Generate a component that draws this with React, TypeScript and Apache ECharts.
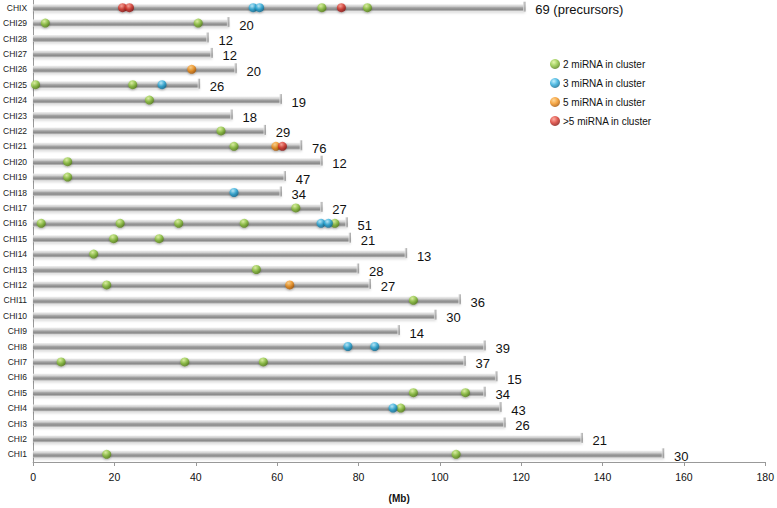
import React, { useEffect, useRef } from "react";
import * as echarts from "echarts";

// Chromosomes, bottom to top
const chromosomes = [
  "CHI1", "CHI2", "CHI3", "CHI4", "CHI5", "CHI6", "CHI7", "CHI8", "CHI9", "CHI10",
  "CHI11", "CHI12", "CHI13", "CHI14", "CHI15", "CHI16", "CHI17", "CHI18", "CHI19", "CHI20",
  "CHI21", "CHI22", "CHI23", "CHI24", "CHI25", "CHI26", "CHI27", "CHI28", "CHI29", "CHIX",
];
// Chromosome lengths (Mb)
const lengthsMb = [
  155.1, 135.1, 116.1, 115.1, 111.2, 114.1, 106.3, 111.2, 90.1, 99.1,
  105.1, 83.0, 80.1, 91.9, 78.1, 77.3, 71.1, 61.1, 62.1, 71.1,
  66.1, 57.2, 49.0, 61.1, 41.0, 50.0, 44.1, 43.1, 48.2, 121.0,
];
// miRNA precursor counts per chromosome
const precursorCounts = [
  30, 21, 26, 43, 34, 15, 37, 39, 14, 30,
  36, 27, 28, 13, 21, 51, 27, 34, 47, 12,
  76, 29, 18, 19, 26, 20, 12, 12, 20, 69,
];
const xSuffix = " (precursors)";

// Cluster positions [Mb, chromosome]
const clusters2: [number, string][] = [
  [71.0, "CHIX"], [82.2, "CHIX"],
  [3.0, "CHI29"], [40.6, "CHI29"],
  [0.6, "CHI25"], [24.5, "CHI25"],
  [28.6, "CHI24"],
  [46.2, "CHI22"],
  [49.4, "CHI21"],
  [8.5, "CHI20"],
  [8.5, "CHI19"],
  [64.6, "CHI17"],
  [2.0, "CHI16"], [21.4, "CHI16"], [35.8, "CHI16"], [51.9, "CHI16"], [74.2, "CHI16"],
  [19.8, "CHI15"], [31.0, "CHI15"],
  [14.9, "CHI14"],
  [54.9, "CHI13"],
  [18.1, "CHI12"],
  [93.5, "CHI11"],
  [6.9, "CHI7"], [37.3, "CHI7"], [56.6, "CHI7"],
  [93.5, "CHI5"], [106.3, "CHI5"],
  [90.4, "CHI4"],
  [18.1, "CHI1"], [104.0, "CHI1"],
];
const clusters3: [number, string][] = [
  [54.1, "CHIX"], [55.7, "CHIX"],
  [31.7, "CHI25"],
  [49.4, "CHI18"],
  [70.8, "CHI16"], [72.6, "CHI16"],
  [77.4, "CHI8"], [84.0, "CHI8"],
  [88.5, "CHI4"],
];
const clusters5: [number, string][] = [
  [39.0, "CHI26"],
  [59.7, "CHI21"],
  [63.1, "CHI12"],
];
const clustersMore5: [number, string][] = [
  [22.0, "CHIX"], [23.7, "CHIX"], [75.8, "CHIX"],
  [61.3, "CHI21"],
];

const xTicks = { min: 0, max: 180, interval: 20 };

function sphere(light: string, base: string, dark: string) {
  return new echarts.graphic.RadialGradient(0.38, 0.32, 0.68, [
    { offset: 0, color: light },
    { offset: 0.55, color: base },
    { offset: 1, color: dark },
  ]);
}

export default function App() {
  const ref = useRef<HTMLDivElement>(null);
  useEffect(() => {
    document.body.style.margin = "0";
    const chart = echarts.init(ref.current!, undefined, { renderer: "svg" });

    const barGrad = new echarts.graphic.LinearGradient(0, 0, 0, 1, [
      { offset: 0, color: "#f0f0f0" },
      { offset: 0.3, color: "#d0d0d0" },
      { offset: 0.5, color: "#a2a2a2" },
      { offset: 0.75, color: "#8a8a8a" },
      { offset: 1, color: "#c8c8c8" },
    ]);
    const capGrad = new echarts.graphic.LinearGradient(0, 0, 1, 0, [
      { offset: 0, color: "#e6e6e6" },
      { offset: 1, color: "#8a8a8a" },
    ]);

    const dotStyle = (c: any) => ({
      color: c,
      shadowBlur: 2,
      shadowColor: "rgba(0,0,0,0.35)",
      shadowOffsetY: 1,
    });

    const scatterSeries = (name: string, data: [number, string][], color: any) => ({
      name,
      type: "scatter",
      data,
      symbol: "circle",
      symbolSize: 9,
      itemStyle: dotStyle(color),
      z: 5,
    });

    const font = "Liberation Sans, Arial, Helvetica, sans-serif";

    chart.setOption({
      animation: false,
      textStyle: { fontFamily: font },
      grid: { left: 33, right: 10.5, top: 0, bottom: 38.5 },
      legend: {
        orient: "vertical",
        left: 545,
        top: 54,
        itemWidth: 10,
        itemHeight: 10,
        itemGap: 9,
        icon: "circle",
        textStyle: { fontSize: 10, color: "#111", fontFamily: font, padding: [0, 0, 0, -2] },
        data: ["2 miRNA in cluster", "3 miRNA in cluster", "5 miRNA in cluster", ">5 miRNA in cluster"],
      },
      xAxis: {
        type: "value",
        min: xTicks.min,
        max: xTicks.max,
        interval: xTicks.interval,
        name: "(Mb)",
        nameLocation: "middle",
        nameGap: 31,
        nameTextStyle: { fontWeight: "bold", fontSize: 10, color: "#111", fontFamily: font },
        axisLine: { show: true, lineStyle: { color: "#999" } },
        axisTick: { show: true, length: 4, lineStyle: { color: "#999" } },
        axisLabel: { fontSize: 10.5, color: "#111", margin: 9, fontFamily: font },
        splitLine: { show: false },
      },
      yAxis: {
        type: "category",
        data: chromosomes,
        axisLine: { show: true, lineStyle: { color: "#999" } },
        axisTick: { show: false },
        axisLabel: { fontSize: 8.5, color: "#222", margin: 6, fontFamily: font },
        splitLine: { show: false },
      },
      series: [
        {
          type: "bar",
          data: lengthsMb,
          barWidth: 7,
          itemStyle: {
            color: barGrad,
            shadowColor: "rgba(0,0,0,0.12)",
            shadowBlur: 2,
            shadowOffsetY: 2,
          },
          label: {
            show: true,
            position: "right",
            distance: 10,
            offset: [0, 2],
            fontSize: 13,
            color: "#111",
            fontFamily: font,
            formatter: (p: any) =>
              String(precursorCounts[p.dataIndex]) + (chromosomes[p.dataIndex] === "CHIX" ? xSuffix : ""),
          },
          z: 2,
          silent: true,
        },
        {
          type: "scatter",
          data: lengthsMb.map((v, i) => [v, chromosomes[i]]),
          symbol: "rect",
          symbolSize: [2.5, 10],
          symbolOffset: [-1, -1],
          itemStyle: { color: capGrad },
          z: 3,
          silent: true,
        },
        scatterSeries("2 miRNA in cluster", clusters2, sphere("#dff59a", "#8cc43c", "#557f16")),
        scatterSeries("3 miRNA in cluster", clusters3, sphere("#b4ecff", "#27a9da", "#0f6a91")),
        scatterSeries("5 miRNA in cluster", clusters5, sphere("#ffcf80", "#f39018", "#a85500")),
        scatterSeries(">5 miRNA in cluster", clustersMore5, sphere("#ff9a8c", "#d8342a", "#871410")),
      ],
    });
    return () => chart.dispose();
  }, []);
  return <div ref={ref} style={{ width: 777, height: 508 }} />;
}
